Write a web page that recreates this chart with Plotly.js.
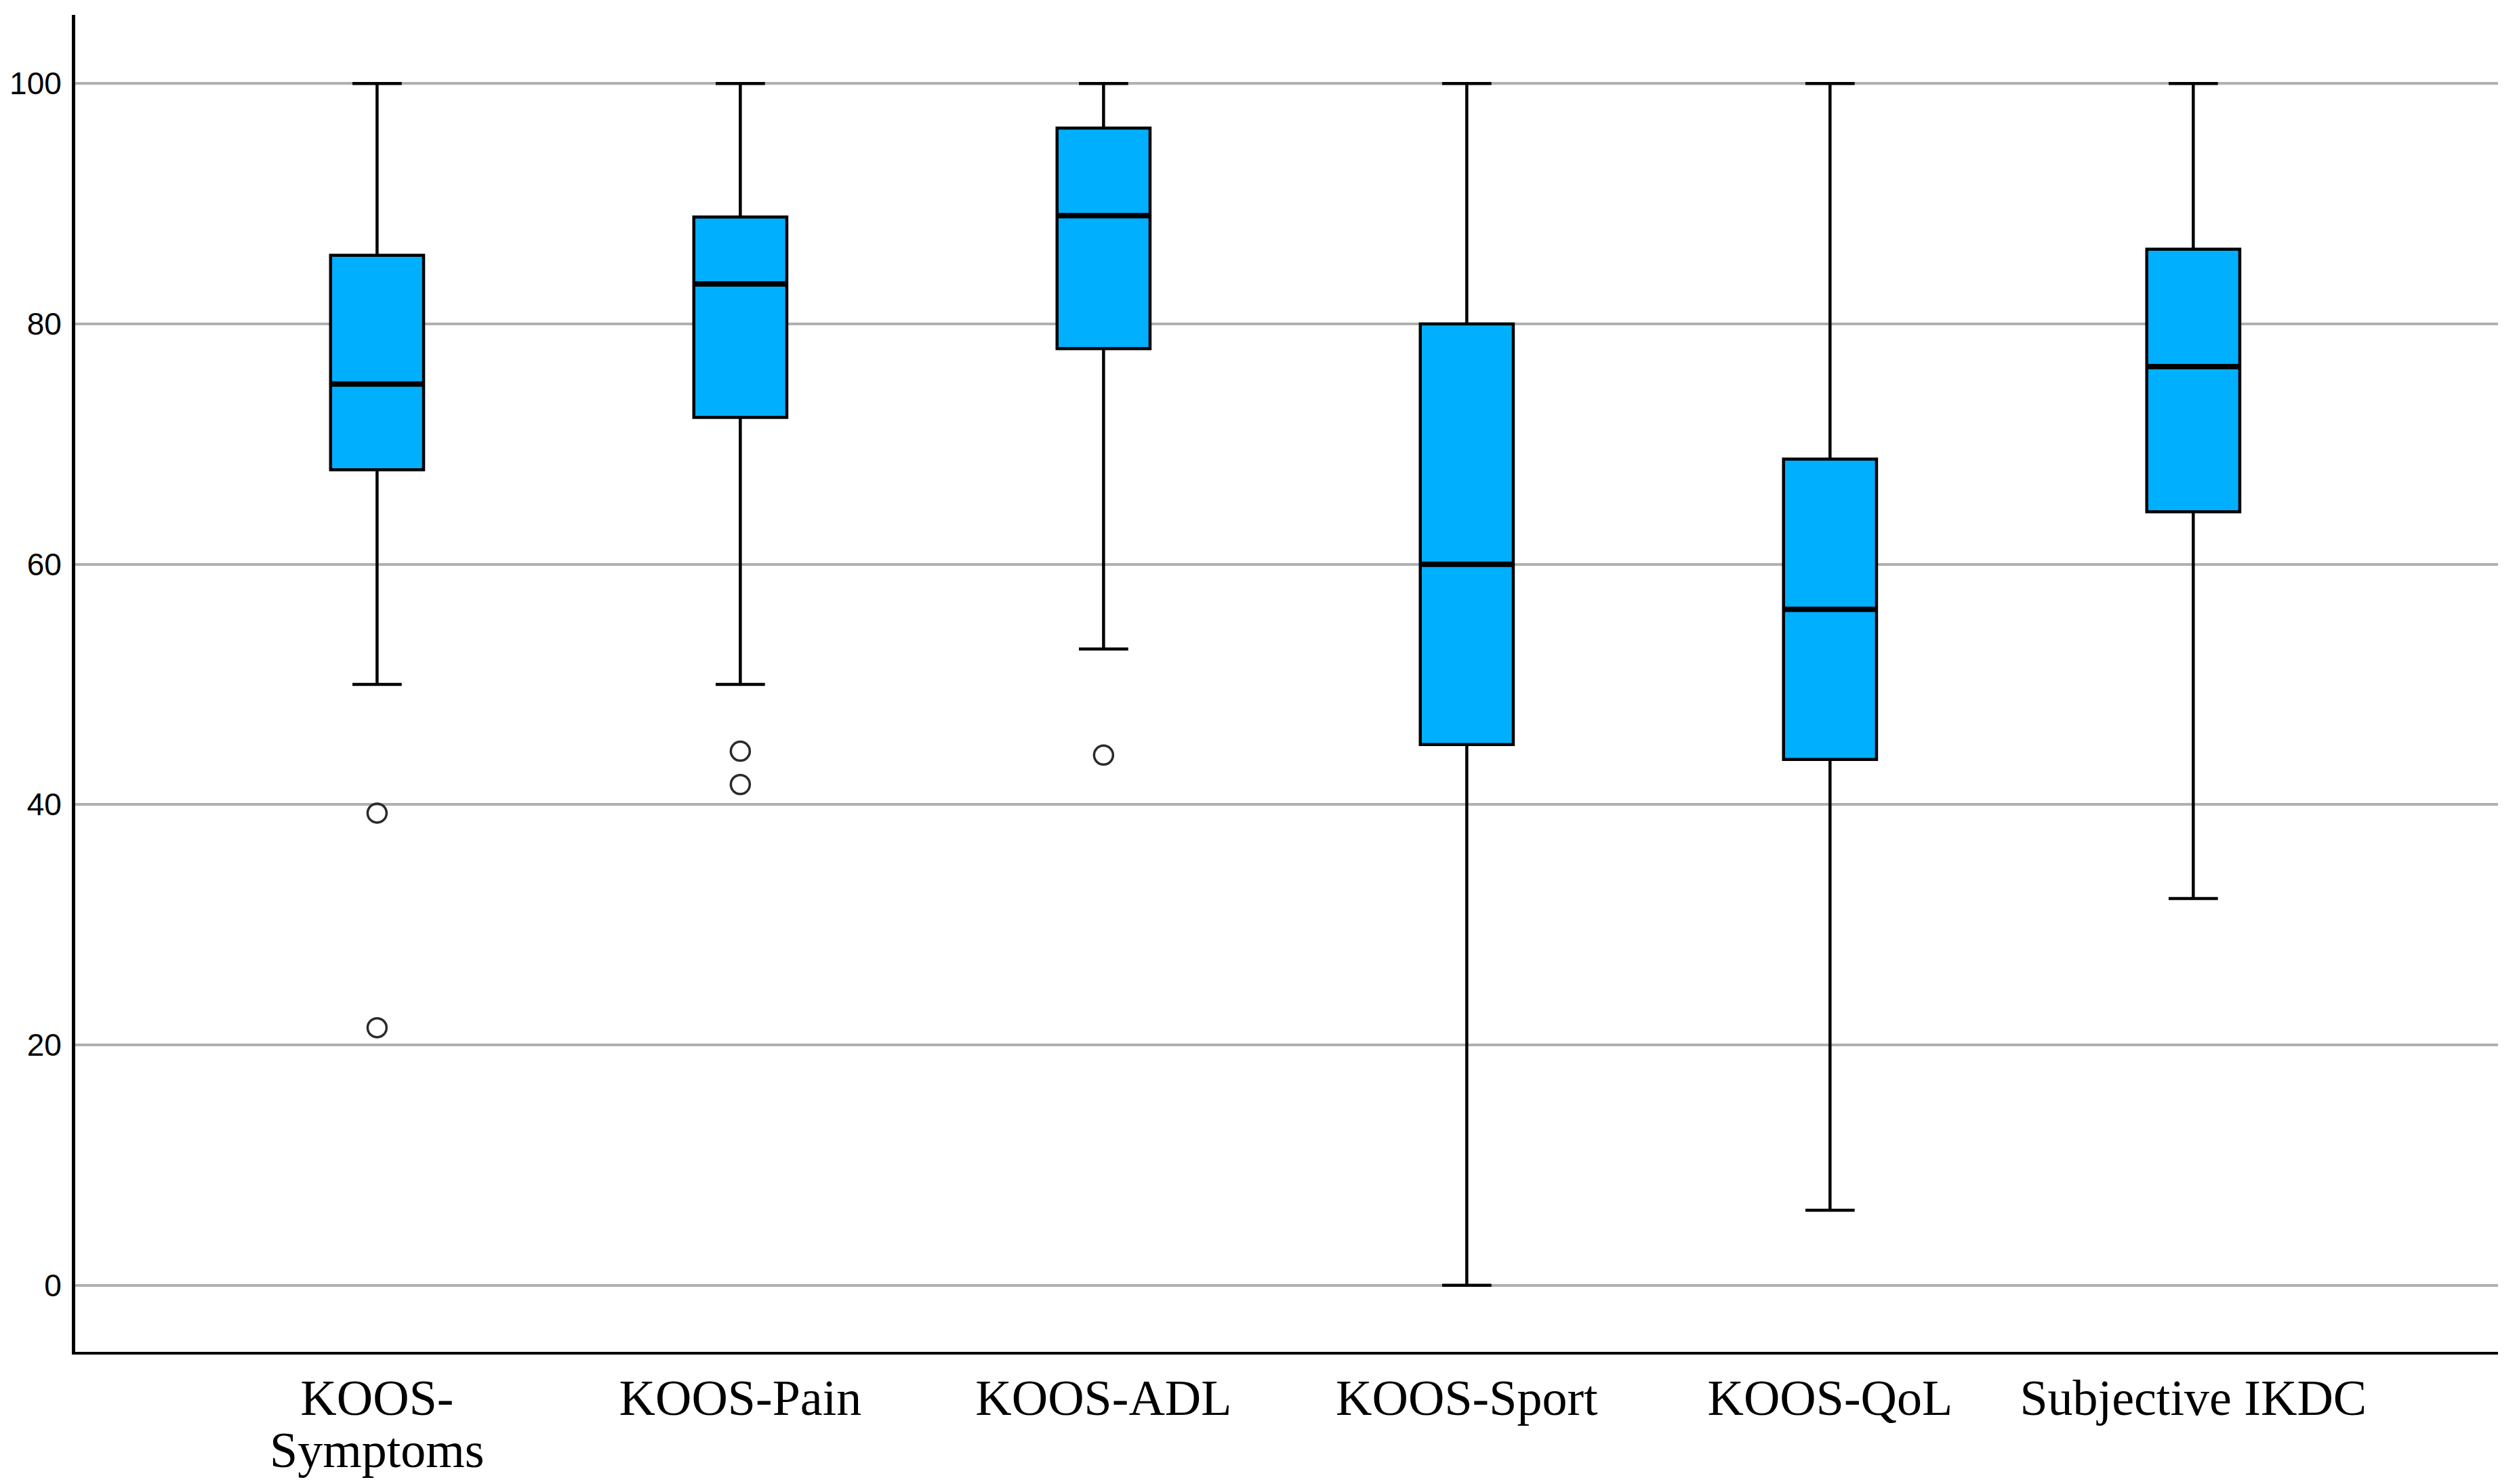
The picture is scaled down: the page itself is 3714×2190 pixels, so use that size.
<!DOCTYPE html>
<html>
<head>
<meta charset="utf-8">
<script src="https://cdn.plot.ly/plotly-3.0.1.min.js"></script>
<style>
  html, body { margin: 0; padding: 0; background: #ffffff; }
  #chart { width: 3714px; height: 2190px; }
</style>
</head>
<body>
<div id="chart"></div>
<script>
// ---- Data ----
const categories = ['KOOS-Symptoms', 'KOOS-Pain', 'KOOS-ADL', 'KOOS-Sport', 'KOOS-QoL', 'Subjective IKDC'];
const tickLabels = ['KOOS-', 'KOOS-Pain', 'KOOS-ADL', 'KOOS-Sport', 'KOOS-QoL', 'Subjective IKDC'];
const secondLineCategory = 'KOOS-Symptoms';
const secondLineText = 'Symptoms';
const lowerWhisker = [50.0, 50.0, 52.94, 0.0, 6.25, 32.18];
const q1Values     = [67.86, 72.22, 77.94, 45.0, 43.75, 64.37];
const medianValues = [75.0, 83.33, 89.0, 60.0, 56.25, 76.44];
const q3Values     = [85.71, 88.89, 96.3, 80.0, 68.75, 86.21];
const upperWhisker = [100, 100, 100, 100, 100, 100];
const outlierCategory = ['KOOS-Symptoms', 'KOOS-Symptoms', 'KOOS-Pain', 'KOOS-Pain', 'KOOS-ADL'];
const outlierValues   = [39.29, 21.43, 44.44, 41.67, 44.12];
const yTickValues = [0, 20, 40, 60, 80, 100];

const serifFont = 'Liberation Serif, Times New Roman, serif';

// ---- Traces ----
const boxTrace = {
  type: 'box',
  x: categories,
  q1: q1Values,
  median: medianValues,
  q3: q3Values,
  lowerfence: lowerWhisker,
  upperfence: upperWhisker,
  boxpoints: false,
  width: 0.256,
  whiskerwidth: 0.53,
  fillcolor: '#00b0ff',
  line: { color: '#000000', width: 4.5 },
  hoverinfo: 'skip',
  showlegend: false
};

// thicker median bar drawn over the box
const medianTrace = {
  type: 'scatter',
  mode: 'markers',
  x: categories,
  y: medianValues,
  marker: {
    symbol: 'line-ew',
    size: 97,
    color: '#000000',
    line: { color: '#000000', width: 8 }
  },
  hoverinfo: 'skip',
  showlegend: false
};

const outlierTrace = {
  type: 'scatter',
  mode: 'markers',
  x: outlierCategory,
  y: outlierValues,
  marker: {
    symbol: 'circle-open',
    size: 28,
    color: '#2a2a2a',
    line: { color: '#2a2a2a', width: 3.5 }
  },
  hoverinfo: 'skip',
  showlegend: false
};

const layout = {
  width: 3714,
  height: 2190,
  margin: { l: 111, r: 28, t: 22, b: 195 },
  paper_bgcolor: '#ffffff',
  plot_bgcolor: '#ffffff',
  showlegend: false,
  xaxis: {
    type: 'category',
    categoryorder: 'array',
    categoryarray: categories,
    range: [-0.831, 5.839],
    tickvals: categories,
    ticktext: tickLabels,
    showgrid: false,
    zeroline: false,
    showline: true,
    linecolor: '#000000',
    linewidth: 4,
    ticks: '',
    ticklabelstandoff: 0,
    tickfont: { family: serifFont, size: 74, color: '#000000' }
  },
  yaxis: {
    range: [-5.54, 105.71],
    tickvals: yTickValues,
    showgrid: true,
    gridcolor: '#b0b0b0',
    gridwidth: 4,
    zeroline: false,
    showline: true,
    linecolor: '#000000',
    linewidth: 5,
    ticks: '',
    ticklabelstandoff: 6,
    tickfont: { family: 'Liberation Sans, Arial, sans-serif', size: 46, color: '#000000' }
  },
  annotations: [{
    x: secondLineCategory,
    xref: 'x',
    y: 0,
    yref: 'paper',
    yanchor: 'top',
    yshift: -103,
    borderpad: 0,
    text: secondLineText,
    showarrow: false,
    font: { family: serifFont, size: 74, color: '#000000' }
  }]
};

Plotly.newPlot('chart', [boxTrace, medianTrace, outlierTrace], layout, { staticPlot: true, displayModeBar: false });
</script>
</body>
</html>
